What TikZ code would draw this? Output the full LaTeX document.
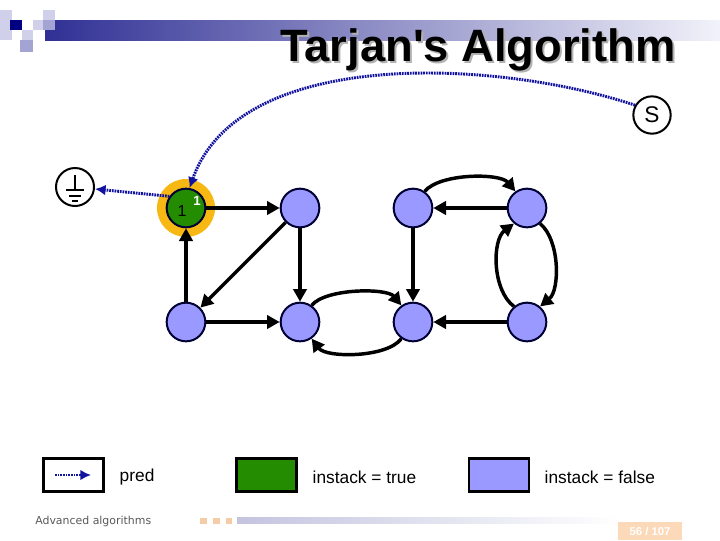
\documentclass[tikz,border=0pt]{standalone}
\usepackage{fontspec}
\setmainfont{Liberation Sans}
\newfontfamily\titlefam{Liberation Sans}
\newfontfamily\footfont{DejaVu Sans}
\usetikzlibrary{arrows.meta}
\definecolor{vblue}{HTML}{9999FF}
\definecolor{vgreen}{HTML}{238C00}
\definecolor{ringc}{HTML}{F7B814}
\definecolor{predc}{HTML}{1212A0}
\definecolor{navy}{HTML}{000033}
\definecolor{hdark}{HTML}{303095}
\definecolor{hlight}{HTML}{F2F2FA}
\definecolor{sqlight}{HTML}{D0D0EA}
\definecolor{sqmid}{HTML}{A4A4D4}
\definecolor{sqdark}{HTML}{000080}
\definecolor{peach}{HTML}{FBD9B9}
\definecolor{footsq}{HTML}{F5CCA8}
\definecolor{barl}{HTML}{C4C4E0}
\begin{document}
\begin{tikzpicture}[x=0.75pt,y=-0.75pt,
  vert/.style={circle,draw=navy,line width=1.5pt,fill=vblue,minimum size=29pt,inner sep=0pt},
  edge/.style={line width=2.6pt,-{Triangle[length=9.5pt,width=10pt]}},
  pred/.style={predc,line width=2.2pt,dash pattern=on 1.3pt off 0.7pt,-{Latex[length=8pt,width=8pt]}},
  legbox/.style={draw,line width=2.2pt,minimum width=45pt,minimum height=24.5pt,inner sep=0pt},
  legtext/.style={anchor=west,font=\fontsize{13}{15}\selectfont},
  titlefont/.style={font=\titlefam\bfseries\fontsize{34}{40}\selectfont}]
\useasboundingbox (0,0) rectangle (720,540);
\fill[white] (0,0) rectangle (720,540);
% header decoration
\shade[left color=hdark,right color=hlight] (45,20) rectangle (720,40);
\fill[sqlight] (0,10) rectangle (12,40);
\fill[sqlight] (43,10) rectangle (55,20);
\fill[sqmid] (43,20) rectangle (55,30);
\fill[sqlight] (33,20) rectangle (43,30);
\fill[sqdark] (10,20) rectangle (22,30);
\fill[sqlight] (22,30) rectangle (33,40);
\fill[sqmid] (20,40) rectangle (33,52);
% title
\node[titlefont,anchor=base,text=black!30] (titleshadow) at (480,63) {Tarjan's Algorithm};
\node[titlefont,anchor=base] (title) at (478,61) {Tarjan's Algorithm};
% special nodes
\node[circle,draw,line width=1.5pt,minimum size=28pt,inner sep=0pt,font=\fontsize{17}{20}\selectfont] (s) at (652,115) {S};
\node[circle,draw,line width=1.5pt,minimum size=28.5pt,inner sep=0pt] (gnd) at (75,187) {};
\draw[line width=1.1pt] (75,175) -- (75,190);
\draw[line width=1.1pt] (66,190) -- (84,190);
\draw[line width=1.1pt] (69,196) -- (81,196);
\draw[line width=1.1pt] (72,201) -- (78,201);
% graph nodes
\node[circle,fill=ringc,minimum size=43.5pt,inner sep=0pt] (ring) at (186,208) {};
\node[vert,fill=vgreen] (a) at (186,208) {};
\node[font=\fontsize{12}{14}\selectfont] (a1) at (182,211) {1};
\node[font=\bfseries\fontsize{10}{12}\selectfont,text=white] (a1s) at (197,201) {1};
\node[vert] (b) at (300,208) {};
\node[vert] (c) at (413,208) {};
\node[vert] (d) at (527,208) {};
\node[vert] (e) at (186,322) {};
\node[vert] (f) at (300,322) {};
\node[vert] (g) at (413,322) {};
\node[vert] (h) at (527,322) {};
% edges
\draw[edge] (a) -- (b);
\draw[edge] (b) -- (e);
\draw[edge] (b) -- (f);
\draw[edge] (e) -- (a);
\draw[edge] (e) -- (f);
\draw[edge] (f.55) .. controls (326,288) and (387,288) .. (g.125);
\draw[edge] (g.-125) .. controls (387,358) and (326,358) .. (f.-55);
\draw[edge] (c) -- (g);
\draw[edge] (h) -- (g);
\draw[edge] (d) -- (c);
\draw[edge] (c.55) .. controls (440,173) and (500,173) .. (d.125);
\draw[edge] (d.-50) .. controls (560,240) and (560,290) .. (h.50);
\draw[edge] (h.130) .. controls (492,290) and (492,240) .. (d.-130);
% pred pointers
\draw[pred] (s.150) .. controls (500,60) and (240,45) .. (a.80);
\draw[pred] (a.145) -- (gnd);
% legend
\node[legbox,fill=white] (l1) at (73.5,475) {};
\coordinate (l1s) at (55,475);
\coordinate (l1e) at (91,475);
\draw[pred,line width=1.8pt] (l1s) -- (l1e);
\node[legtext] (t1) at (115,477) {pred};
\node[legbox,fill=vgreen] (l2) at (266.5,475) {};
\node[legtext] (t2) at (308,477) {instack = true};
\node[legbox,fill=vblue] (l3) at (499,475) {};
\node[legtext] (t3) at (540,477) {instack = false};
% footer
\node[anchor=west,font=\footfont\fontsize{8.2}{10}\selectfont,text=black!65,inner sep=0pt] (foot) at (35,521) {Advanced algorithms};
\fill[footsq] (200,518) rectangle (207,524);
\fill[footsq] (213,518) rectangle (220,524);
\fill[footsq] (226,518) rectangle (232,524);
\shade[left color=barl,right color=white] (237,517) rectangle (620,523);
\node[fill=peach,text=white,font=\bfseries\fontsize{8.5}{10}\selectfont,minimum width=48pt,minimum height=13.5pt,inner sep=0pt] (pg) at (650,531) {56 / 107};
\end{tikzpicture}
\end{document}
